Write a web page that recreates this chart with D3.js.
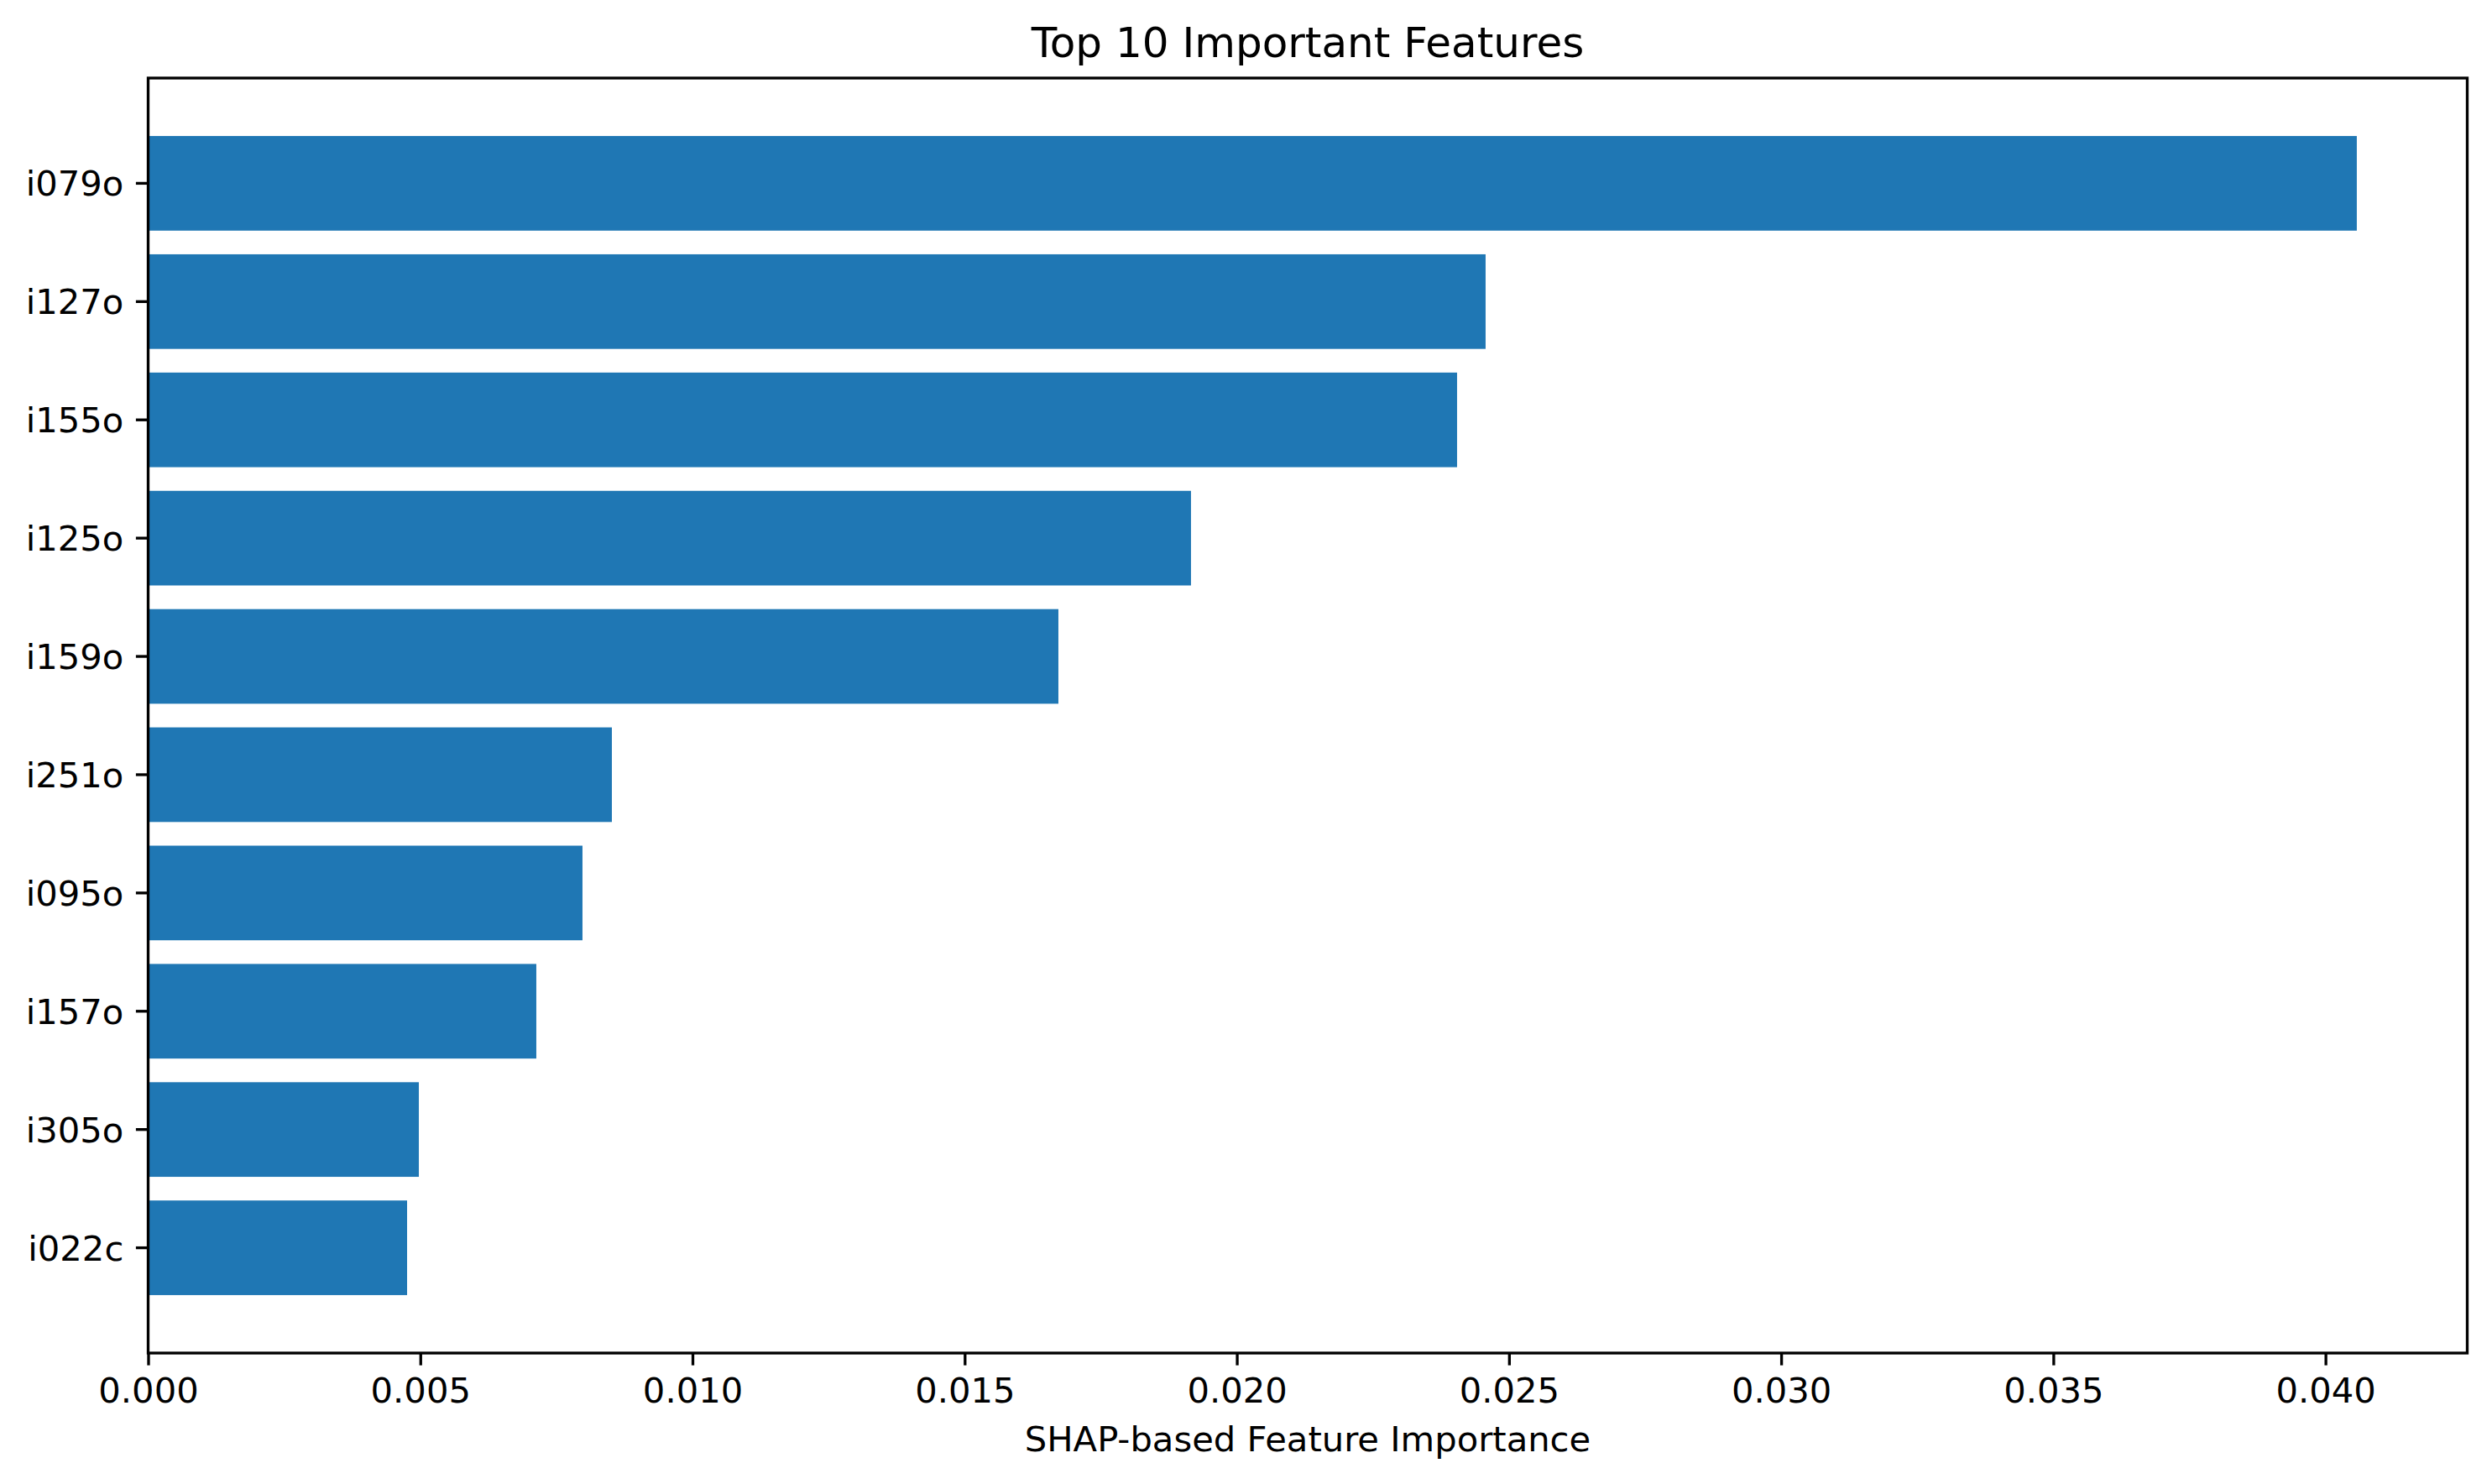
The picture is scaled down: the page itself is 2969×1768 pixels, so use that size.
<!DOCTYPE html>
<html>
<head>
<meta charset="utf-8">
<script src="https://cdn.jsdelivr.net/npm/d3@7"></script>
<style>
  html, body { margin: 0; padding: 0; background: #fff; }
  svg { display: block; }
  text { font-family: "DejaVu Sans", sans-serif; fill: #000; }
</style>
</head>
<body>
<svg id="chart" width="2969" height="1768"></svg>
<script>
// ---- Data ----
const features = ["i079o", "i127o", "i155o", "i125o", "i159o", "i251o", "i095o", "i157o", "i305o", "i022c"];
const importance = [0.040575, 0.024570, 0.024046, 0.019158, 0.016722, 0.008519, 0.007979, 0.007131, 0.004973, 0.004757];
const xTicks = [0.000, 0.005, 0.010, 0.015, 0.020, 0.025, 0.030, 0.035, 0.040];
const titleText = "Top 10 Important Features";
const xLabelText = "SHAP-based Feature Importance";

(function () {
  // ---- Layout ----
  const axLeft = 176.5, axRight = 2939.5, axTop = 93, axBottom = 1612;
  const lw = 3.33;
  const tickLen = 14.6, pad = 14.6;
  const tickFont = 41.7, titleFont = 50;
  const barColor = "#1f77b4";

  const svg = d3.select("#chart");

  const x = d3.scaleLinear()
    .domain([0, d3.max(importance) * 1.05])
    .range([axLeft, axRight]);

  const y = d3.scaleBand()
    .domain(features)
    .range([axTop, axBottom])
    .paddingInner(0.2)
    .paddingOuter(0.49);

  // bars
  svg.append("g")
    .selectAll("rect")
    .data(features.map((f, i) => ({ f, v: importance[i] })))
    .join("rect")
    .attr("x", x(0))
    .attr("y", d => y(d.f))
    .attr("width", d => x(d.v) - x(0))
    .attr("height", y.bandwidth())
    .attr("fill", barColor);

  // x axis
  const xAxis = d3.axisBottom(x)
    .tickValues(xTicks)
    .tickFormat(d3.format(".3f"))
    .tickSize(tickLen)
    .tickSizeOuter(0)
    .tickPadding(pad);
  const gx = svg.append("g")
    .attr("transform", `translate(0,${axBottom})`)
    .call(xAxis);
  gx.select(".domain").remove();
  gx.selectAll(".tick line").attr("stroke", "#000").attr("stroke-width", lw);
  gx.selectAll(".tick text")
    .attr("font-size", tickFont)
    .attr("font-family", "DejaVu Sans")
    .attr("fill", "#000")
    .attr("y", 1671 - axBottom)
    .attr("dy", null);

  // y axis
  const yAxis = d3.axisLeft(y)
    .tickSize(tickLen)
    .tickSizeOuter(0)
    .tickPadding(pad);
  const gy = svg.append("g")
    .attr("transform", `translate(${axLeft},0)`)
    .call(yAxis);
  gy.select(".domain").remove();
  gy.selectAll(".tick line").attr("stroke", "#000").attr("stroke-width", lw);
  gy.selectAll(".tick text")
    .attr("font-size", tickFont)
    .attr("font-family", "DejaVu Sans")
    .attr("fill", "#000")
    .attr("dy", "0.36em");

  // frame (spines)
  svg.append("rect")
    .attr("x", axLeft)
    .attr("y", axTop)
    .attr("width", axRight - axLeft)
    .attr("height", axBottom - axTop)
    .attr("fill", "none")
    .attr("stroke", "#000")
    .attr("stroke-width", lw)
    .attr("stroke-linejoin", "miter");

  // title
  svg.append("text")
    .attr("x", (axLeft + axRight) / 2)
    .attr("y", 68)
    .attr("text-anchor", "middle")
    .attr("font-size", titleFont)
    .text(titleText);

  // x label
  svg.append("text")
    .attr("x", (axLeft + axRight) / 2)
    .attr("y", 1729)
    .attr("text-anchor", "middle")
    .attr("font-size", tickFont)
    .text(xLabelText);
})();
</script>
</body>
</html>
